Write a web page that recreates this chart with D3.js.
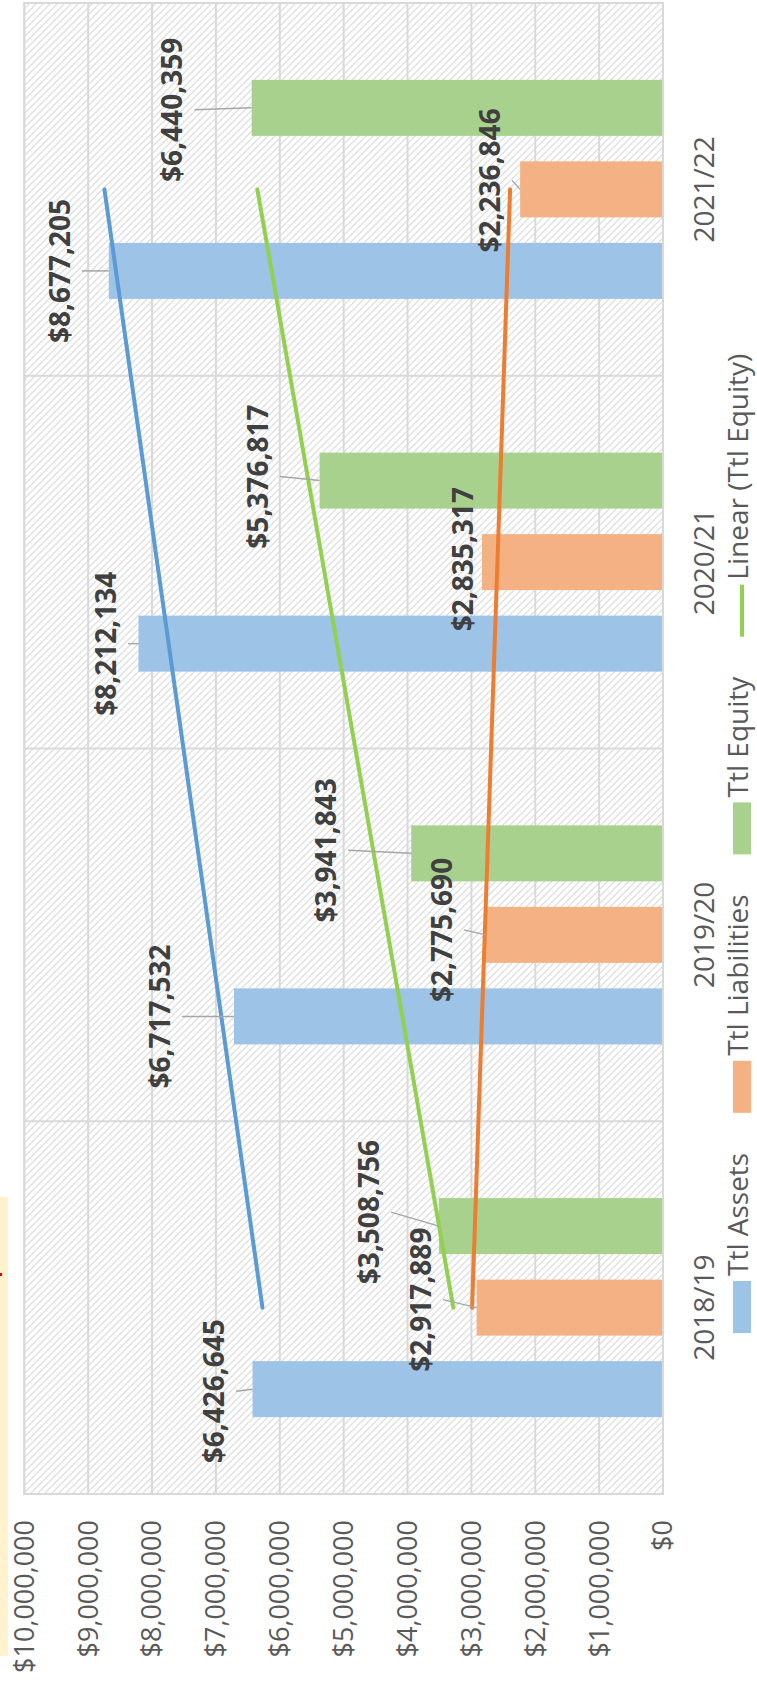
<!DOCTYPE html>
<html><head><meta charset="utf-8">
<script src="https://cdn.jsdelivr.net/npm/d3@7"></script>
<style>
html,body{margin:0;padding:0;background:#fff;}
svg{display:block;font-family:"Open Sans",sans-serif;}
</style></head><body>
<svg id="chart" width="757" height="1692"></svg>
<script>
// ---- data ----
const categories = ["2018/19", "2019/20", "2020/21", "2021/22"];
const seriesNames = ["Ttl Assets", "Ttl Liabilities", "Ttl Equity"];
const assets = [6426645, 6717532, 8212134, 8677205];
const liabilities = [2917889, 2775690, 2835317, 2236846];
const equity = [3508756, 3941843, 5376817, 6440359];
const valueTicks = [0, 1000000, 2000000, 3000000, 4000000, 5000000, 6000000, 7000000, 8000000, 9000000, 10000000];
const trendLegendLabel = "Linear (Ttl Equity)";

// ---- layout / style (kept apart from data) ----
const seriesColors = ["#9dc3e6", "#f4b183", "#a9d18e"];
const trendColors = ["#5b9bd5", "#ed7d31", "#92d050"];
// manual label offsets [along category axis, along value axis] in px
const labelOffsets = [
  [[-2, -38.5], [0, -74], [0, -32.5], [0, -49]],
  [[8, -55.6], [5, -44], [3, -19], [9, -30]],
  [[14, -70], [3, -85], [4, -61.6], [-2, -79]]
];

const W = 1692, H = 757;
const svg = d3.select("#chart");
const defs = svg.append("defs");
const pat = defs.append("pattern").attr("id", "hatch")
  .attr("patternUnits", "userSpaceOnUse").attr("width", 7).attr("height", 7);
pat.append("rect").attr("width", 7).attr("height", 7).attr("fill", "#ffffff");
pat.append("path").attr("d", "M0,0L7,7M-2,5L2,9M5,-2L9,2")
  .attr("stroke", "#dadada").attr("stroke-width", 1.1);

// side note box fragment
svg.append("rect").attr("x", 0).attr("y", 1197).attr("width", 8).attr("height", 459).attr("fill", "#fff2cc");
svg.append("rect").attr("x", 0).attr("y", 1273).attr("width", 2).attr("height", 3).attr("fill", "#e00000");

// rotated frame: chart drawn as normal column chart, turned -90deg
const g = svg.append("g").attr("transform", `translate(0,${W}) rotate(-90)`);

const x = d3.scaleBand().domain(categories).range([198, 1689]).padding(0);
const xs = d3.scaleBand().domain(seriesNames).range([0, x.bandwidth()])
  .paddingInner(0.313).paddingOuter(0.943);
const y = d3.scaleLinear().domain([0, 10000000]).range([663, 24.3]);
const fmt = d3.format("$,.0f");
const data = [assets, liabilities, equity];

// plot background
g.append("rect").attr("x", x.range()[0]).attr("y", y(10000000))
  .attr("width", x.range()[1] - x.range()[0]).attr("height", y(0) - y(10000000))
  .attr("fill", "url(#hatch)");

// value gridlines
g.append("g").selectAll("line").data(valueTicks).join("line")
  .attr("x1", x.range()[0]).attr("x2", x.range()[1])
  .attr("y1", d => y(d)).attr("y2", d => y(d))
  .attr("stroke", "#d9d9d9").attr("stroke-width", 2);

// category separators
g.append("g").selectAll("line").data(categories).join("line")
  .attr("x1", d => x(d)).attr("x2", d => x(d))
  .attr("y1", y(0)).attr("y2", y(10000000))
  .attr("stroke", "#d9d9d9").attr("stroke-width", 2);

// bars
seriesNames.forEach((s, i) => {
  g.append("g").selectAll("rect").data(categories).join("rect")
    .attr("x", c => x(c) + xs(s))
    .attr("width", xs.bandwidth())
    .attr("y", (c, j) => y(data[i][j]))
    .attr("height", (c, j) => y(0) - y(data[i][j]))
    .attr("fill", seriesColors[i]);
});

// linear trendlines (least squares over category index 1..n)
seriesNames.forEach((s, i) => {
  const vals = data[i];
  const n = vals.length;
  const xsIdx = vals.map((v, k) => k + 1);
  const mx = d3.mean(xsIdx), my = d3.mean(vals);
  const slope = d3.sum(vals.map((v, k) => (xsIdx[k] - mx) * (v - my))) /
                d3.sum(xsIdx.map(xi => (xi - mx) * (xi - mx)));
  const icpt = my - slope * mx;
  const pts = [0, n - 1].map(k => [x(categories[k]) + x.bandwidth() / 2, y(icpt + slope * (k + 1))]);
  g.append("line")
    .attr("x1", pts[0][0]).attr("y1", pts[0][1])
    .attr("x2", pts[1][0]).attr("y2", pts[1][1])
    .attr("stroke", trendColors[i]).attr("stroke-width", 4)
    .attr("stroke-linecap", "round");
});

// data labels with leader lines
seriesNames.forEach((s, i) => {
  categories.forEach((c, j) => {
    const v = data[i][j];
    const uc = x(c) + xs(s) + xs.bandwidth() / 2;
    const ve = y(v);
    const [du, dv] = labelOffsets[i][j];
    const ul = uc + du, vl = ve + dv;
    if (ve - (vl + 22) > 3) {
      g.append("line").attr("x1", ul).attr("y1", vl + 22).attr("x2", uc).attr("y2", ve)
        .attr("stroke", "#a6a6a6").attr("stroke-width", 1.5);
    }
    g.append("text").attr("x", ul).attr("y", vl).attr("dy", "0.35em")
      .attr("text-anchor", "middle").attr("font-size", 28).attr("font-weight", 700)
      .attr("fill", "#404040").text(fmt(v));
  });
});

// plot border
g.append("rect").attr("x", x.range()[0]).attr("y", y(10000000))
  .attr("width", x.range()[1] - x.range()[0]).attr("height", y(0) - y(10000000))
  .attr("fill", "none").attr("stroke", "#d9d9d9").attr("stroke-width", 2);

// value axis labels
g.append("g").selectAll("text").data(valueTicks).join("text")
  .attr("x", 172).attr("y", d => y(d)).attr("dy", "0.35em")
  .attr("text-anchor", "end").attr("font-size", 27).attr("fill", "#595959")
  .text(d => fmt(d));

// category labels
g.append("g").selectAll("text").data(categories).join("text")
  .attr("x", d => x(d) + x.bandwidth() / 2).attr("y", 714)
  .attr("text-anchor", "middle").attr("font-size", 28).attr("fill", "#595959")
  .text(d => d);

// legend
const legend = g.append("g");
let u = 359;
const legendItems = seriesNames.map((s, i) => ({label: s, color: seriesColors[i], type: "rect"}))
  .concat([{label: trendLegendLabel, color: trendColors[2], type: "line"}]);
legendItems.forEach(item => {
  if (item.type === "rect") {
    legend.append("rect").attr("x", u).attr("y", 733).attr("width", 52).attr("height", 18).attr("fill", item.color);
  } else {
    legend.append("line").attr("x1", u).attr("x2", u + 52).attr("y1", 742).attr("y2", 742)
      .attr("stroke", item.color).attr("stroke-width", 4);
  }
  const t = legend.append("text").attr("x", u + 57).attr("y", 748)
    .attr("font-size", 28).attr("fill", "#595959").text(item.label);
  u = u + 57 + t.node().getComputedTextLength() + 40;
});
</script>
</body></html>
